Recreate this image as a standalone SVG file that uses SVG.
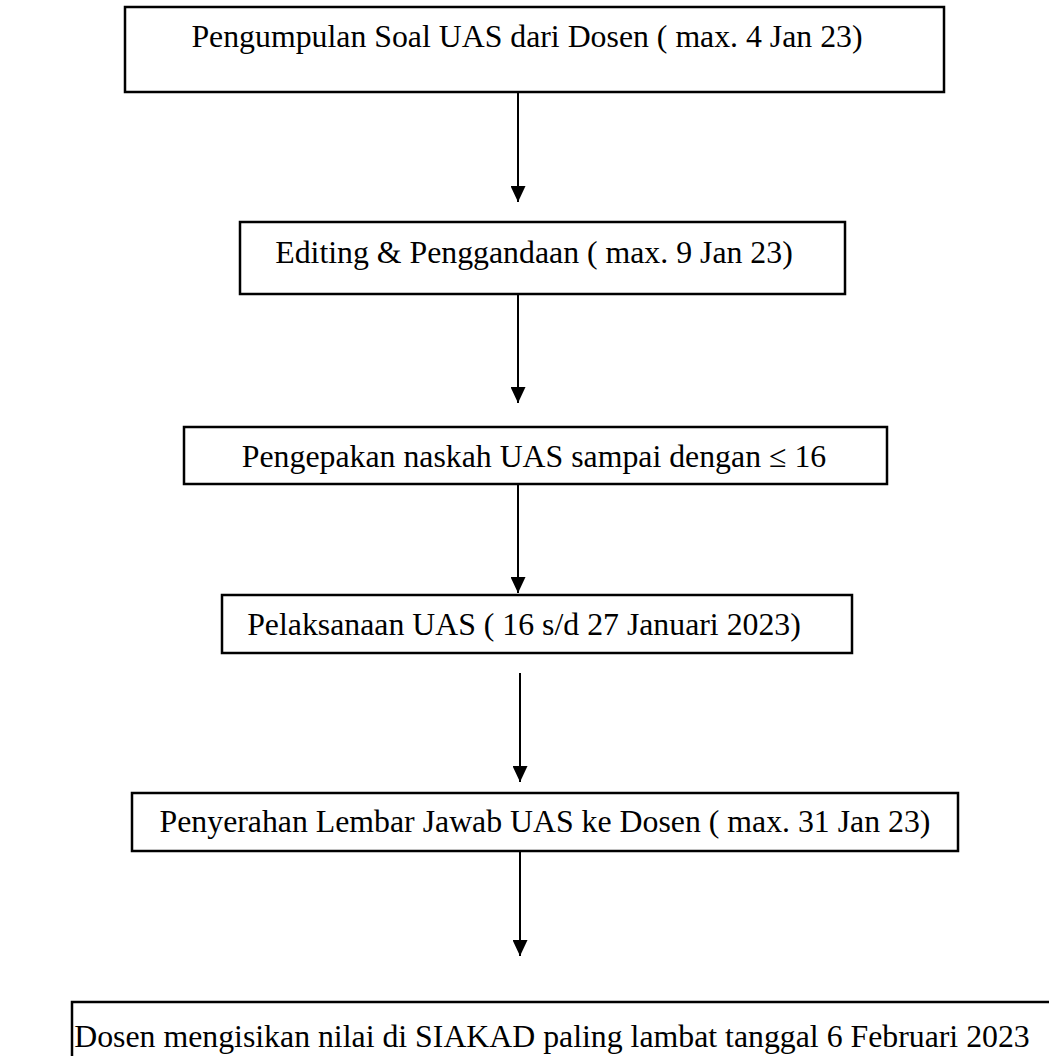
<svg xmlns="http://www.w3.org/2000/svg" width="1049" height="1056" viewBox="0 0 1049 1056">
<defs>
<style>
.box{fill:#fff;stroke:#000;stroke-width:2.5}
.t{font-family:"Liberation Serif","Times New Roman",serif;font-size:31.8px;fill:#000;text-anchor:middle}
.c{stroke:#000;stroke-width:2;fill:none}
</style>
<marker id="arr" markerUnits="userSpaceOnUse" markerWidth="16" markerHeight="15" viewBox="0 0 16 15" refX="16" refY="7.5" orient="auto">
<path d="M0,0 L16,7.5 L0,15 Z" fill="#000"/>
</marker>
</defs>
<rect width="1049" height="1056" fill="#fff"/>
<g id="connectors">
<line class="c" x1="518" y1="92" x2="518" y2="202" marker-end="url(#arr)"/>
<line class="c" x1="518" y1="294" x2="518" y2="403" marker-end="url(#arr)"/>
<line class="c" x1="518" y1="484" x2="518" y2="593" marker-end="url(#arr)"/>
<line class="c" x1="520" y1="673" x2="520" y2="782" marker-end="url(#arr)"/>
<line class="c" x1="520" y1="848" x2="520" y2="956" marker-end="url(#arr)"/>
</g>
<g id="n1">
<rect class="box" x="125" y="7" width="819" height="85"/>
<text class="t" x="527" y="47">Pengumpulan Soal UAS dari Dosen ( max. 4 Jan 23)</text>
</g>
<g id="n2">
<rect class="box" x="240" y="222" width="605" height="72"/>
<text class="t" x="534" y="263">Editing &amp; Penggandaan ( max. 9 Jan 23)</text>
</g>
<g id="n3">
<rect class="box" x="184" y="427" width="703" height="57"/>
<text class="t" x="534" y="467">Pengepakan naskah UAS sampai dengan ≤ 16</text>
</g>
<g id="n4">
<rect class="box" x="222" y="595" width="630" height="58"/>
<text class="t" x="524" y="635">Pelaksanaan UAS ( 16 s/d 27 Januari 2023)</text>
</g>
<g id="n5">
<rect class="box" x="132" y="793" width="826" height="58"/>
<text class="t" x="545" y="832">Penyerahan Lembar Jawab UAS ke Dosen ( max. 31 Jan 23)</text>
</g>
<g id="n6">
<rect class="box" x="72" y="1002" width="1010" height="80"/>
<text class="t" x="552" y="1047">Dosen mengisikan nilai di SIAKAD paling lambat tanggal 6 Februari 2023</text>
</g>
</svg>
